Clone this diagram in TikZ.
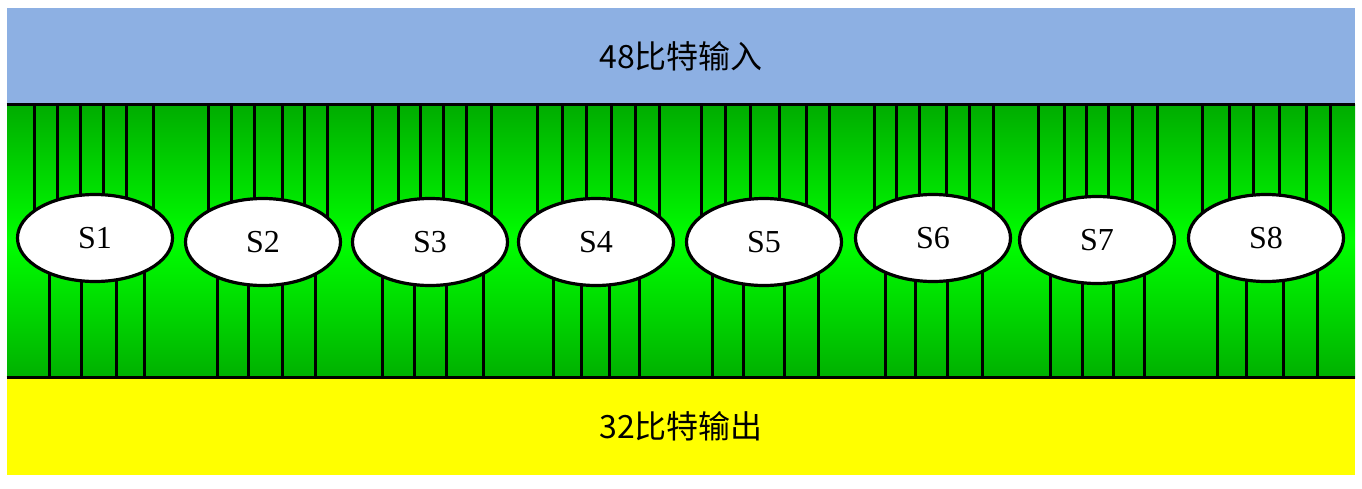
\documentclass[tikz,border=0pt]{standalone}
\usepackage{fontspec}
\setmainfont{Liberation Serif}
\newfontfamily\cjk{Noto Sans CJK SC}
\usetikzlibrary{shapes.geometric}
\pgfdeclarelayer{bandlayer}
\pgfdeclarelayer{wirelayer}
\pgfsetlayers{bandlayer,wirelayer,main}
\definecolor{inblue}{RGB}{141,176,227}
\definecolor{outyellow}{RGB}{255,255,0}
\definecolor{gdark}{RGB}{0,172,0}
\definecolor{gbright}{RGB}{0,255,0}
\tikzset{
  band/.style={rectangle, inner sep=0pt, minimum width=674pt, font=\cjk\fontsize{16}{18}\selectfont},
  sbox/.style={ellipse, draw=black, line width=1.6pt, fill=white, inner sep=0pt,
               minimum width=77.5pt, minimum height=43.5pt, font=\fontsize{16}{18}\selectfont},
  wire/.style={draw=black, line width=1.5pt},
  sepline/.style={draw=black, line width=1.7pt}
}
\begin{document}
\begin{tikzpicture}[x=0.5pt,y=-0.5pt]
\useasboundingbox (0,0) rectangle (1362,488);
\begin{pgfonlayer}{bandlayer}
  \node[band, fill=inblue, minimum height=48pt] (in) at (681,56) {48比特输入};
  \node[band, minimum height=137pt, top color=gdark, bottom color=gdark!95!gbright, middle color=gbright] (mid) at (681,241) {};
  \node[band, fill=outyellow, minimum height=48.5pt] (out) at (681,426.5) {32比特输出};
\end{pgfonlayer}
\foreach \n/\cx/\cy/\tops/\bots in {
  1/95/238/{34,57,80,103,126,153}/{49,81,116,144},
  2/263/242/{208,231,254,282,304,327}/{217,248,282,315},
  3/430/242/{372,398,420,443,466,491}/{382,414,446,483},
  4/596/242/{537,562,586,611,635,659}/{553,581,609,639},
  5/764/242/{701,725,750,779,806,829}/{712,743,784,818},
  6/933/238/{874,896,919,946,969,993}/{885,915,947,982},
  7/1097/240/{1038,1064,1086,1108,1132,1157}/{1050,1082,1113,1144},
  8/1266/238/{1202,1229,1253,1279,1306,1330}/{1217,1246,1283,1317}}{
  \node[sbox] (S\n) at (\cx,\cy) {S\n};
  \begin{pgfonlayer}{wirelayer}
    \foreach \x in \tops { \draw[wire] (\x,0 |- in.south) -- (\x,0 |- S\n.center); }
    \foreach \x in \bots { \draw[wire] (\x,0 |- S\n.center) -- (\x,0 |- out.north); }
  \end{pgfonlayer}
}
\draw[sepline] (in.south west) -- (in.south east);
\draw[sepline] (out.north west) -- (out.north east);
\end{tikzpicture}
\end{document}
